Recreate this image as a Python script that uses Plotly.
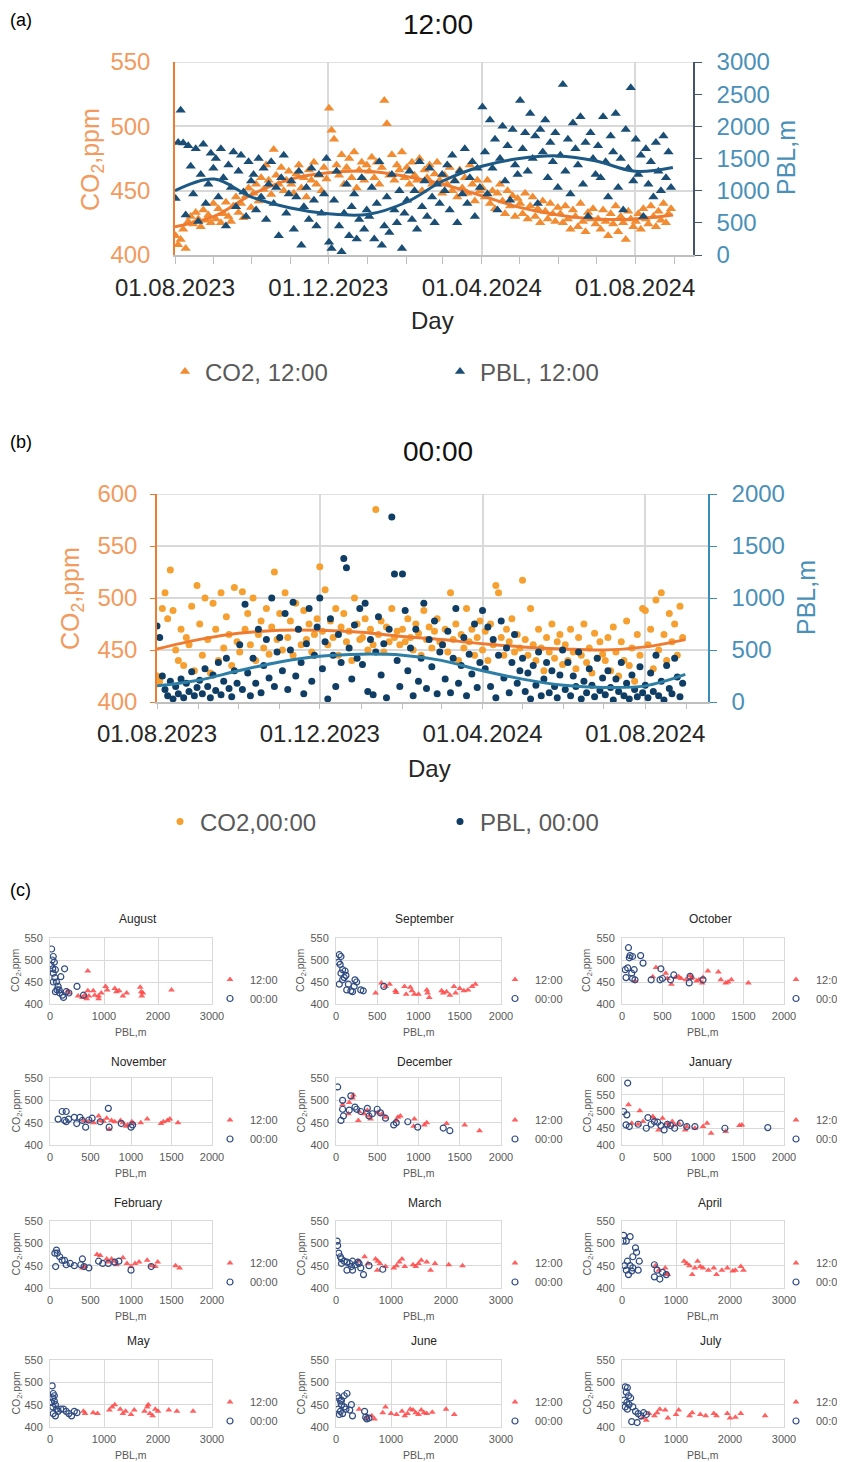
import plotly.graph_objects as go
import pandas as pd

# page body has an 8px margin: the figure is drawn from (8, 8) on the page
OFF = 8
W, H = 845 - OFF, 1462 - OFF
FONT = "Liberation Sans, Arial, sans-serif"


def px(x):
    return (x - OFF) / W


def py(y):
    return 1 - (y - OFF) / H


# ---------------- (a) 12:00 daily series (every 2nd day from 01.08.2023) ----------------
co2_noon = [
    415, 408, 412, 420, 405, 426, 430, 424, 433, 428, 422, 435, 427, 431, 425, 440,
    428, 436, 425, 432, 441, 430, 426, 438, 445, 433, 440, 429, 446, 452, 437,
    448, 455, 442, 460, 451, 470, 458, 447, 482, 462, 455, 468, 450, 458, 465,
    455, 448, 463, 470, 452, 460, 445, 466, 458, 472, 455, 462, 450, 468, 459,
    514, 497, 490, 470, 462, 478, 455, 468, 475, 460, 480, 452, 466, 472, 458, 470,
    465, 476, 460, 472, 455, 468, 520, 502, 462, 478, 458, 470, 466, 480, 460,
    468, 455, 472, 462, 458, 475, 450, 466, 460, 470, 455, 463, 472, 458, 448,
    462, 455, 468, 450, 458, 445, 466, 452, 460, 448, 470, 455, 442, 458, 450,
    452, 445, 458, 440, 450, 436, 448, 455, 442, 432, 450, 438, 446, 430, 444,
    440, 432, 448, 428, 438, 445, 430, 436, 425, 442, 434, 428, 440, 432, 426, 437,
    432, 425, 438, 428, 420, 435, 430, 422, 440, 426, 418, 433, 428, 436, 424,
    428, 420, 435, 426, 415, 432, 424, 438, 418, 430, 425, 412, 434, 428, 422,
    426, 432, 420, 436, 428, 424, 438, 430, 422, 434, 427, 440, 425, 432, 436,
]
pbl_noon = [
    880, 1750, 2250, 1740, 620, 1700, 1380, 950, 1650, 520, 1250, 1720, 800, 1100, 1580, 1350,
    1500, 900, 1650, 1200, 450, 1400, 1050, 1600, 750, 1300, 1550, 980, 600, 1450, 1150,
    1250, 700, 1500, 900, 1350, 550, 1100, 1450, 800, 1050, 300, 1200, 1550, 650, 950,
    1150, 400, 900, 1300, 150, 750, 1050, 550, 1350, 850, 450, 1250, 650, 950, 1500,
    200, 100, 850, 1300, 450, 50, 650, 1100, 300, 750, 950, 250, 550, 1200, 400, 700,
    600, 1050, 250, 800, 1450, 150, 450, 900, 350, 1250, 700, 500, 1000, 100, 650,
    850, 1300, 550, 1000, 400, 1450, 750, 1150, 600, 1350, 900, 500, 1100, 800, 1250,
    1000, 1400, 700, 1550, 1150, 500, 1300, 950, 1650, 800, 1200, 1450, 600, 1350, 1050,
    2300, 1600, 950, 2100, 1350, 1800, 700, 1500, 2000, 1150, 1700, 850, 1950, 1400, 1250,
    2400, 1650, 1900, 1300, 2200, 1500, 1850, 800, 1950, 1600, 2100, 1200, 1750, 1450, 1900, 1050,
    1550, 2650, 1300, 1800, 950, 2050, 1650, 1400, 2150, 1100, 1750, 600, 1900, 1500, 1250,
    1700, 1200, 2150, 1450, 900, 1850, 1600, 2200, 1050, 1500, 700, 1950, 1350, 2600, 1150,
    1800, 1250, 1550, 600, 1650, 1100, 1450, 900, 1750, 1300, 1000, 1850, 1200, 1600, 1050,
]

# ---------------- (b) 00:00 daily series (every 2nd day from 01.08.2023) ----------------
co2_night = [
    425, 420, 490, 505, 480, 527, 488, 450, 440, 470, 435, 462, 455, 492, 430, 512,
    475, 445, 500, 460, 428, 495, 470, 440, 505, 452, 482, 465, 435, 510, 458,
    448, 506, 470, 485, 455, 500, 440, 465, 478, 452, 490, 446, 472, 525, 460,
    485, 450, 505, 462, 478, 445, 495, 470, 455, 488, 460, 475, 448, 465, 480,
    530, 468, 508, 455, 478, 462, 490, 445, 472, 485, 458, 468, 440, 500, 475, 460,
    462, 480, 450, 470, 455, 585, 465, 478, 448, 472, 458, 490, 462, 468, 455,
    470, 458, 480, 462, 450, 475, 466, 445, 488, 460, 472, 452, 468, 480, 458,
    455, 470, 448, 505, 460, 475, 440, 465, 452, 490, 458, 470, 445, 462, 478,
    450, 468, 440, 475, 455, 512, 505, 462, 445, 470, 458, 480, 448, 465, 452,
    517, 460, 445, 490, 455, 440, 470, 452, 430, 462, 448, 475, 442, 458, 465, 436,
    455, 440, 470, 448, 432, 462, 445, 475, 438, 452, 428, 466, 442, 458, 446,
    440, 462, 430, 472, 448, 425, 458, 440, 478, 435, 452, 420, 465, 445, 490,
    488, 455, 470, 432, 498, 450, 505, 465, 440, 485, 458, 475, 445, 492, 462,
]
pbl_night = [
    730, 620, 250, 120, 60, 200, 30, 150, 80, 220, 40, 180, 100, 290, 60, 140,
    210, 80, 320, 150, 40, 260, 110, 380, 70, 200, 420, 130, 50, 300, 180,
    550, 120, 940, 280, 60, 420, 180, 700, 90, 350, 600, 230, 1000, 150, 480,
    620, 300, 850, 120, 500, 960, 250, 700, 380, 80, 560, 900, 200, 450, 720,
    1000, 320, 580, 30, 800, 450, 150, 650, 380, 1380, 1290, 520, 220, 740, 420, 900,
    360, 950, 100, 600, 70, 480, 820, 260, 560, 40, 700, 1780, 1230, 400, 150,
    1230, 880, 300, 520, 60, 700, 200, 420, 950, 130, 600, 340, 780, 80, 480,
    550, 220, 680, 90, 420, 900, 180, 350, 620, 60, 460, 270, 750, 140, 380,
    880, 320, 720, 150, 600, 40, 450, 780, 230, 520, 90, 380, 650, 180, 300,
    420, 100, 280, 30, 350, 160, 480, 60, 220, 380, 90, 300, 150, 40, 260, 500,
    120, 380, 60, 250, 150, 480, 30, 200, 90, 320, 160, 50, 420, 110, 230,
    70, 300, 140, 20, 220, 100, 380, 60, 180, 30, 260, 120, 50, 340, 90,
    160, 40, 280, 100, 450, 60, 200, 20, 350, 130, 80, 420, 240, 50, 180,
]

# ---------------- trend lines (read at month starts) ----------------
trend_dates = ["2023-08-01", "2023-09-01", "2023-10-01", "2023-11-01", "2023-12-01",
               "2024-01-01", "2024-02-01", "2024-03-01", "2024-04-01", "2024-05-01",
               "2024-06-01", "2024-07-01", "2024-08-01", "2024-08-31"]
co2_noon_trend = [422, 430, 447, 459, 464, 465, 461, 455, 446, 437, 431, 428, 428, 431]
pbl_noon_trend = [1000, 1180, 900, 730, 640, 630, 820, 1150, 1380, 1500, 1540, 1460, 1300, 1360]
co2_night_trend = [451, 460, 466, 469, 469, 467, 463, 460, 456, 453, 451, 450, 453, 460]
pbl_night_trend = [155, 210, 300, 385, 440, 460, 450, 400, 300, 220, 160, 140, 155, 265]

date_tickvals = ["2023-08-01", "2023-12-01", "2024-04-01", "2024-08-01"]
date_ticktext = ["01.08.2023", "01.12.2023", "01.04.2024", "01.08.2024"]

# ---------------- (c) monthly scatter: PBL vs CO2 ----------------
month_names = ["August", "September", "October", "November", "December", "January",
               "February", "March", "April", "May", "June", "July"]
month_xmax = [3000, 2000, 2000, 2000, 2000, 2000, 2000, 3000, 3000, 3000, 3000, 3000]
month_ymax = [550, 550, 550, 550, 550, 600, 550, 550, 550, 550, 550, 550]

aug_noon_pbl = [330, 350, 520, 600, 640, 680, 700, 700, 720, 800, 830, 900, 900, 950, 1030, 1060, 1200, 1230, 1280, 1350, 1420, 1670, 1690, 1700, 1720, 2250]
aug_noon_co2 = [430, 425, 418, 415, 420, 412, 475, 430, 418, 430, 420, 418, 412, 425, 440, 432, 435, 428, 430, 418, 425, 438, 428, 418, 425, 432]
aug_night_pbl = [30, 60, 40, 80, 20, 50, 100, 270, 200, 90, 60, 120, 150, 170, 100, 180, 230, 250, 300, 350, 500, 620, 60, 130]
aug_night_co2 = [525, 508, 500, 495, 488, 480, 478, 480, 462, 460, 450, 450, 440, 432, 428, 425, 420, 415, 428, 425, 440, 420, 470, 432]

sep_noon_pbl = [480, 550, 600, 650, 720, 730, 830, 850, 900, 920, 950, 1000, 1100, 1110, 1130, 1280, 1300, 1340, 1380, 1430, 1450, 1500, 1550, 1600, 1650, 1690]
sep_noon_co2 = [425, 448, 440, 445, 430, 426, 440, 422, 438, 430, 422, 422, 432, 425, 415, 430, 425, 428, 420, 440, 425, 435, 430, 432, 440, 445]
sep_night_pbl = [40, 60, 30, 50, 80, 110, 60, 120, 100, 40, 150, 230, 250, 220, 130, 180, 200, 300, 330, 580, 80]
sep_night_co2 = [512, 508, 495, 490, 478, 475, 470, 465, 460, 445, 445, 455, 450, 440, 432, 430, 428, 432, 430, 440, 455]

oct_noon_pbl = [160, 380, 420, 540, 560, 610, 660, 700, 730, 790, 840, 850, 870, 920, 950, 990, 1000, 1060, 1190, 1220, 1280, 1310, 1350, 1560]
oct_noon_co2 = [452, 462, 483, 470, 458, 445, 460, 462, 458, 455, 465, 458, 460, 452, 455, 448, 460, 475, 473, 455, 448, 450, 455, 448]
oct_night_pbl = [80, 100, 90, 130, 230, 260, 40, 150, 70, 120, 50, 130, 160, 360, 480, 470, 500, 640, 840, 830, 1000, 600]
oct_night_co2 = [528, 510, 505, 508, 510, 493, 478, 478, 482, 470, 460, 458, 455, 455, 480, 455, 458, 466, 463, 448, 455, 455]

nov_noon_pbl = [420, 470, 540, 600, 620, 660, 700, 730, 760, 800, 870, 900, 940, 960, 1010, 1030, 1120, 1200, 1370, 1400, 1450, 1480, 1580]
nov_noon_co2 = [455, 452, 450, 465, 455, 453, 460, 435, 455, 452, 455, 450, 442, 445, 452, 448, 450, 458, 448, 452, 455, 458, 450]
nov_night_pbl = [100, 150, 200, 200, 180, 230, 300, 330, 370, 400, 440, 480, 520, 620, 720, 730, 880, 1000, 1020]
nov_night_co2 = [458, 475, 475, 452, 455, 458, 462, 448, 462, 455, 440, 456, 460, 452, 482, 440, 448, 440, 445]

dec_noon_pbl = [80, 150, 160, 200, 210, 270, 280, 340, 380, 400, 420, 500, 560, 600, 730, 750, 780, 950, 940, 1070, 1100, 1340, 1560, 1740]
dec_noon_co2 = [490, 470, 495, 505, 512, 455, 475, 470, 478, 465, 458, 472, 470, 462, 455, 462, 465, 458, 442, 445, 450, 448, 445, 432]
dec_night_pbl = [20, 80, 80, 60, 90, 160, 180, 230, 250, 300, 380, 400, 440, 500, 540, 700, 730, 870, 990, 1300, 1380, 600]
dec_night_co2 = [530, 500, 480, 455, 465, 478, 510, 485, 480, 475, 482, 465, 470, 480, 472, 445, 450, 452, 440, 438, 432, 460]

jan_noon_pbl = [80, 220, 120, 200, 260, 380, 400, 450, 500, 560, 580, 620, 650, 700, 780, 800, 900, 1000, 1050, 1100, 1280, 1450, 1480]
jan_noon_co2 = [520, 502, 465, 462, 470, 485, 478, 445, 480, 465, 458, 470, 460, 465, 445, 455, 450, 455, 465, 435, 440, 458, 460]
jan_night_pbl = [70, 20, 60, 50, 90, 200, 300, 320, 360, 400, 440, 480, 520, 560, 600, 650, 720, 800, 900, 1270, 1800]
jan_night_co2 = [585, 500, 490, 460, 455, 462, 450, 482, 462, 470, 468, 458, 445, 462, 458, 450, 465, 455, 455, 450, 452]

feb_noon_pbl = [400, 430, 580, 620, 700, 720, 760, 800, 820, 900, 950, 1000, 1050, 1100, 1200, 1250, 1300, 1330, 1550, 1600]
feb_noon_co2 = [445, 448, 475, 473, 465, 458, 465, 460, 452, 468, 455, 448, 455, 458, 462, 450, 448, 458, 450, 445]
feb_night_pbl = [60, 80, 90, 120, 150, 180, 70, 200, 250, 300, 380, 400, 420, 480, 600, 650, 720, 800, 850, 1000, 1250]
feb_night_co2 = [478, 485, 478, 470, 462, 462, 448, 452, 455, 450, 452, 465, 448, 445, 460, 455, 455, 458, 460, 440, 448]

mar_noon_pbl = [400, 520, 580, 720, 750, 760, 800, 900, 1050, 1100, 1150, 1200, 1250, 1400, 1450, 1500, 1550, 1650, 1720, 1800, 2050, 2300]
mar_noon_co2 = [460, 470, 455, 465, 440, 460, 455, 448, 445, 450, 458, 465, 448, 452, 448, 455, 462, 458, 440, 455, 452, 450]
mar_night_pbl = [20, 30, 50, 80, 100, 150, 200, 250, 300, 350, 400, 450, 500, 200, 280, 600, 100, 300, 850, 420]
mar_night_co2 = [505, 495, 478, 470, 465, 460, 458, 455, 460, 452, 458, 445, 430, 440, 448, 450, 455, 440, 442, 455]

apr_noon_pbl = [620, 680, 800, 830, 850, 1150, 1200, 1250, 1300, 1350, 1400, 1450, 1500, 1600, 1700, 1750, 1850, 1950, 2050, 2100, 2200, 2250]
apr_noon_co2 = [450, 440, 445, 432, 430, 460, 455, 450, 430, 445, 460, 448, 445, 440, 445, 430, 440, 445, 438, 440, 448, 440]
apr_night_pbl = [20, 30, 80, 150, 200, 100, 150, 250, 270, 320, 50, 80, 120, 200, 300, 600, 650, 700, 750, 600, 820, 180]
apr_night_co2 = [505, 518, 505, 515, 470, 460, 450, 490, 480, 460, 450, 440, 430, 445, 440, 452, 440, 420, 435, 425, 430, 438]

may_noon_pbl = [620, 650, 800, 880, 1100, 1150, 1200, 1300, 1350, 1400, 1500, 1560, 1750, 1800, 1820, 1850, 1900, 1950, 2000, 2200, 2350, 2650]
may_noon_co2 = [435, 430, 432, 430, 438, 445, 450, 440, 430, 435, 428, 438, 435, 445, 450, 430, 425, 440, 435, 438, 435, 435]
may_night_pbl = [40, 60, 50, 80, 100, 50, 120, 60, 100, 150, 200, 250, 300, 350, 400, 450, 500, 80, 30]
may_night_co2 = [492, 475, 465, 458, 450, 445, 440, 430, 425, 435, 440, 440, 435, 430, 425, 435, 432, 470, 455]

jun_noon_pbl = [420, 550, 650, 700, 850, 900, 1000, 1100, 1200, 1250, 1300, 1350, 1400, 1450, 1500, 1550, 1600, 1650, 1750, 2000, 2150]
jun_noon_co2 = [440, 420, 425, 418, 432, 445, 430, 428, 435, 425, 430, 440, 438, 432, 428, 438, 432, 430, 433, 440, 428]
jun_night_pbl = [20, 50, 80, 100, 150, 200, 40, 80, 120, 60, 180, 250, 280, 300, 520, 540, 560, 600, 100, 150]
jun_night_co2 = [470, 465, 458, 450, 445, 475, 440, 435, 430, 428, 440, 438, 450, 425, 435, 422, 418, 420, 460, 470]

jul_noon_pbl = [380, 450, 500, 600, 650, 700, 800, 850, 1000, 1050, 1250, 1300, 1450, 1550, 1700, 1750, 1950, 2000, 2100, 2200, 2650]
jul_noon_co2 = [420, 415, 430, 425, 432, 440, 438, 420, 428, 438, 425, 432, 428, 425, 430, 425, 430, 420, 422, 430, 425]
jul_night_pbl = [60, 100, 80, 120, 40, 90, 60, 130, 100, 200, 250, 280, 300, 350, 400, 450, 160, 180]
jul_night_co2 = [490, 488, 478, 470, 460, 455, 445, 450, 440, 445, 435, 410, 430, 425, 432, 428, 465, 412]

panel_data = [
    (aug_noon_pbl, aug_noon_co2, aug_night_pbl, aug_night_co2),
    (sep_noon_pbl, sep_noon_co2, sep_night_pbl, sep_night_co2),
    (oct_noon_pbl, oct_noon_co2, oct_night_pbl, oct_night_co2),
    (nov_noon_pbl, nov_noon_co2, nov_night_pbl, nov_night_co2),
    (dec_noon_pbl, dec_noon_co2, dec_night_pbl, dec_night_co2),
    (jan_noon_pbl, jan_noon_co2, jan_night_pbl, jan_night_co2),
    (feb_noon_pbl, feb_noon_co2, feb_night_pbl, feb_night_co2),
    (mar_noon_pbl, mar_noon_co2, mar_night_pbl, mar_night_co2),
    (apr_noon_pbl, apr_noon_co2, apr_night_pbl, apr_night_co2),
    (may_noon_pbl, may_noon_co2, may_night_pbl, may_night_co2),
    (jun_noon_pbl, jun_noon_co2, jun_night_pbl, jun_night_co2),
    (jul_noon_pbl, jul_noon_co2, jul_night_pbl, jul_night_co2),
]

# ---------------- colours ----------------
ORANGE = "#F28C33"
ORANGE_DOT = "#F5A030"
ORANGE_LINE = "#EE7B30"
ORANGE_TXT = "#F39A5E"
NAVY = "#1B4E75"
NAVY_DOT = "#0F3D64"
BLUE_LINE = "#1C5A85"
TEAL_LINE = "#2E7FA6"
BLUE_TXT = "#4A90B8"
GRID = "#D9D9D9"
GRAYTXT = "#595959"
RED = "#FF4444"
CIRC = "#2F4B80"

noon_dates = pd.date_range("2023-08-01 12:00", periods=len(co2_noon), freq="2D")
night_dates = pd.date_range("2023-08-01 00:00", periods=len(co2_night), freq="2D")

fig = go.Figure()

# (a)
fig.add_trace(go.Scatter(x=noon_dates, y=co2_noon, mode="markers", name="CO2, 12:00",
                         marker=dict(symbol="triangle-up", size=9, color=ORANGE),
                         xaxis="x", yaxis="y", legend="legend"))
fig.add_trace(go.Scatter(x=noon_dates, y=pbl_noon, mode="markers", name="PBL, 12:00",
                         marker=dict(symbol="triangle-up", size=9, color=NAVY),
                         xaxis="x", yaxis="y2", legend="legend2"))
fig.add_trace(go.Scatter(x=trend_dates, y=co2_noon_trend, mode="lines", showlegend=False,
                         line=dict(color=ORANGE_LINE, width=3, shape="spline"),
                         xaxis="x", yaxis="y"))
fig.add_trace(go.Scatter(x=trend_dates, y=pbl_noon_trend, mode="lines", showlegend=False,
                         line=dict(color=BLUE_LINE, width=3, shape="spline"),
                         xaxis="x", yaxis="y2"))

# (b)
fig.add_trace(go.Scatter(x=night_dates, y=co2_night, mode="markers", name="CO2,00:00",
                         marker=dict(symbol="circle", size=7, color=ORANGE_DOT),
                         xaxis="x2", yaxis="y3", legend="legend3"))
fig.add_trace(go.Scatter(x=night_dates, y=pbl_night, mode="markers", name="PBL, 00:00",
                         marker=dict(symbol="circle", size=7, color=NAVY_DOT),
                         xaxis="x2", yaxis="y4", legend="legend4"))
fig.add_trace(go.Scatter(x=trend_dates, y=co2_night_trend, mode="lines", showlegend=False,
                         line=dict(color=ORANGE_LINE, width=3, shape="spline"),
                         xaxis="x2", yaxis="y3"))
fig.add_trace(go.Scatter(x=trend_dates, y=pbl_night_trend, mode="lines", showlegend=False,
                         line=dict(color=TEAL_LINE, width=3, shape="spline"),
                         xaxis="x2", yaxis="y4"))

layout = dict(
    width=W, height=H,
    margin=dict(l=0, r=0, t=0, b=0, autoexpand=False),
    paper_bgcolor="white", plot_bgcolor="white",
    font=dict(family=FONT, color=GRAYTXT),
)

# axes (a)
layout["xaxis"] = dict(
    domain=[px(175), px(693)], anchor="y", type="date",
    range=["2023-08-01", "2024-09-16"],
    tickvals=date_tickvals, ticktext=date_ticktext,
    tickfont=dict(family=FONT, size=24, color="#262626"),
    showgrid=True, gridcolor=GRID, gridwidth=1.5,
    showline=True, linecolor="#BFBFBF", linewidth=1.5,
    ticks="outside", ticklen=7, tickcolor="#BFBFBF", ticklabelstandoff=3,
    minor=dict(dtick="M1", tick0="2023-08-01", ticks="outside", ticklen=7,
               tickcolor="#BFBFBF", showgrid=False),
    zeroline=False,
)
layout["yaxis"] = dict(
    domain=[py(255), py(62)], anchor="x", range=[400, 550], dtick=50, tick0=400,
    tickfont=dict(family=FONT, size=24, color=ORANGE_TXT),
    showgrid=True, gridcolor=GRID, gridwidth=1.5,
    showline=True, linecolor=ORANGE_LINE, linewidth=1.5,
    ticks="", ticklabelstandoff=18, zeroline=False,
)
layout["yaxis2"] = dict(
    overlaying="y", side="right", anchor="x", range=[0, 3000], dtick=500, tick0=0,
    tickfont=dict(family=FONT, size=24, color=BLUE_TXT),
    showgrid=False, showline=True, linecolor="#44546A", linewidth=1.5,
    ticks="outside", ticklen=7, tickcolor="#44546A", ticklabelstandoff=10,
    zeroline=False,
)

# axes (b)
layout["xaxis2"] = dict(
    domain=[px(157), px(708)], anchor="y3", type="date",
    range=["2023-08-01", "2024-09-17"],
    tickvals=date_tickvals, ticktext=date_ticktext,
    tickfont=dict(family=FONT, size=24, color="#262626"),
    showgrid=True, gridcolor=GRID, gridwidth=1.5,
    showline=True, linecolor="#BFBFBF", linewidth=1.5,
    ticks="outside", ticklen=5, tickcolor="#BFBFBF", ticklabelstandoff=4,
    minor=dict(dtick="M1", tick0="2023-08-01", ticks="outside", ticklen=5,
               tickcolor="#BFBFBF", showgrid=False),
    zeroline=False,
)
layout["yaxis3"] = dict(
    domain=[py(702), py(494)], anchor="x2", range=[400, 600], dtick=50, tick0=400,
    tickfont=dict(family=FONT, size=24, color=ORANGE_TXT),
    showgrid=True, gridcolor=GRID, gridwidth=1.5,
    showline=True, linecolor=ORANGE_LINE, linewidth=1.5,
    ticks="outside", ticklen=5, tickcolor=ORANGE_LINE, ticklabelstandoff=8,
    zeroline=False,
)
layout["yaxis4"] = dict(
    overlaying="y3", side="right", anchor="x2", range=[0, 2000], dtick=500, tick0=0,
    tickfont=dict(family=FONT, size=24, color=BLUE_TXT),
    showgrid=False, showline=True, linecolor="#3A8DB5", linewidth=1.5,
    ticks="outside", ticklen=7, tickcolor="#3A8DB5", ticklabelstandoff=10,
    zeroline=False,
)

# top gridlines at the upper end of the CO2 axes
layout["shapes"] = [
    dict(type="line", xref="x domain", yref="y", x0=0, x1=1, y0=550, y1=550,
         line=dict(color=GRID, width=1.5), layer="below"),
    dict(type="line", xref="x2 domain", yref="y3", x0=0, x1=1, y0=600, y1=600,
         line=dict(color=GRID, width=1.5), layer="below"),
]


# legends for (a) and (b)
def single_legend(xl, yc):
    return dict(x=px(xl), y=py(yc), xanchor="left", yanchor="middle",
                orientation="v", bgcolor="rgba(0,0,0,0)", borderwidth=0,
                font=dict(family=FONT, size=24, color=GRAYTXT))


layout["legend"] = single_legend(165, 372)
layout["legend2"] = single_legend(440, 372)
layout["legend3"] = single_legend(160, 822)
layout["legend4"] = single_legend(440, 822)

annotations = []


def ann(text, x, y, size, color="#000000", angle=0, xanchor="center"):
    annotations.append(dict(text=text, x=px(x), y=py(y), xref="paper", yref="paper",
                            showarrow=False, xanchor=xanchor, yanchor="middle",
                            textangle=angle, font=dict(family=FONT, size=size, color=color)))


ann("(a)", 8, 20, 18, xanchor="left")
ann("12:00", 438, 24, 28, "#111111")
ann("CO<sub>2</sub>,ppm", 92, 160, 25, ORANGE_TXT, angle=-90)
ann("PBL,m", 786, 158, 25, BLUE_TXT, angle=-90)
ann("Day", 432, 320, 24, "#262626")

ann("(b)", 8, 442, 18, xanchor="left")
ann("00:00", 438, 452, 28, "#111111")
ann("CO<sub>2</sub>,ppm", 72, 598, 25, ORANGE_TXT, angle=-90)
ann("PBL,m", 806, 598, 25, BLUE_TXT, angle=-90)
ann("Day", 430, 768, 24, "#262626")

ann("(c)", 8, 890, 18, xanchor="left")

# ---------------- (c) small panels ----------------
col_x = [(50, 212), (336, 501), (622, 784)]
row_y = [(938, 1004), (1078, 1145), (1221, 1288), (1360, 1427)]
title_y = [919, 1062, 1203, 1341]
pblm_y = [1032, 1173, 1316, 1455]
leg_text_x = [250, 535, 816]
title_x = [138, 424, 710]
co2_lab_x = [16, 301, 587]

small_tick = dict(family=FONT, size=11, color=GRAYTXT)

for k in range(12):
    r, c = divmod(k, 3)
    xa = "xaxis%d" % (3 + k)
    ya = "yaxis%d" % (5 + k)
    xs = "x%d" % (3 + k)
    ys = "y%d" % (5 + k)
    lg = "legend%d" % (5 + k)
    x0, x1 = col_x[c]
    y0, y1 = row_y[r]
    layout[xa] = dict(domain=[px(x0), px(x1)], anchor=ys,
                      range=[0, month_xmax[k]], dtick=1000 if month_xmax[k] == 3000 else 500,
                      tick0=0, tickfont=small_tick, showgrid=True, gridcolor=GRID,
                      showline=True, linecolor=GRID, mirror=True, ticks="",
                      ticklabelstandoff=2, zeroline=False)
    layout[ya] = dict(domain=[py(y1), py(y0)], anchor=xs,
                      range=[400, month_ymax[k]], dtick=50, tick0=400,
                      tickfont=small_tick, showgrid=True, gridcolor=GRID,
                      showline=True, linecolor=GRID, mirror=True, ticks="",
                      ticklabelstandoff=4, zeroline=False)
    npbl, nco2, mpbl, mco2 = panel_data[k]
    fig.add_trace(go.Scatter(x=npbl, y=nco2, mode="markers", name="12:00",
                             marker=dict(symbol="triangle-up", size=6, color=RED, opacity=0.85),
                             xaxis=xs, yaxis=ys, legend=lg))
    fig.add_trace(go.Scatter(x=mpbl, y=mco2, mode="markers", name="00:00",
                             marker=dict(symbol="circle-open", size=6, color=CIRC,
                                         line=dict(width=1.2, color=CIRC)),
                             xaxis=xs, yaxis=ys, legend=lg))
    layout[lg] = dict(x=px(leg_text_x[c] - 40), y=py((y0 + y1) / 2 + 18),
                      xanchor="left", yanchor="middle", orientation="v",
                      bgcolor="rgba(0,0,0,0)", borderwidth=0, tracegroupgap=0,
                      font=dict(family=FONT, size=11, color=GRAYTXT))
    ann(month_names[k], title_x[c], title_y[r], 12, "#262626")
    ann("PBL,m", (x0 + x1) / 2, pblm_y[r], 10.5, GRAYTXT)
    ann("CO<sub>2</sub>,ppm", co2_lab_x[c], (y0 + y1) / 2, 10.5, GRAYTXT, angle=-90)

layout["annotations"] = annotations
fig.update_layout(**layout)

fig.write_html("out.html")
